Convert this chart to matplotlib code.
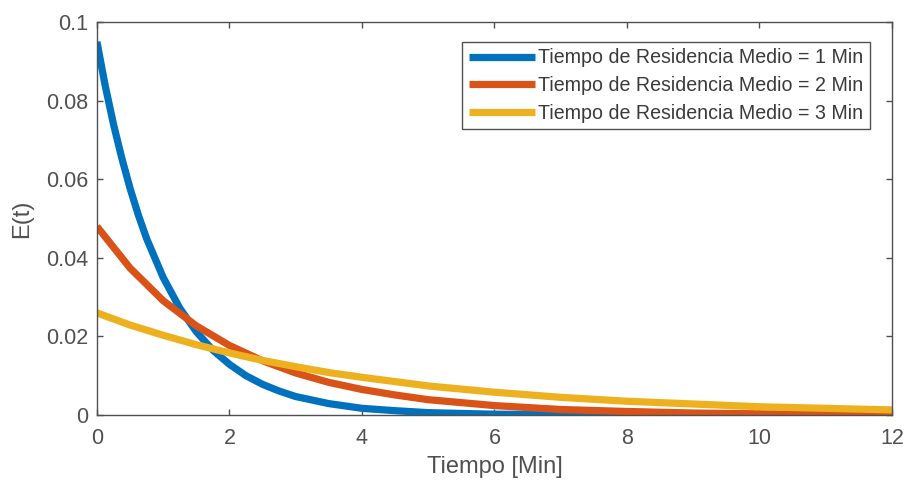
import matplotlib.pyplot as plt

plt.rcParams['font.family'] = ['Liberation Sans', 'DejaVu Sans']

# values
t_1 = [0, 0.125, 0.25, 0.375, 0.5, 0.625, 0.75, 1, 1.25, 1.5, 1.75, 2, 2.25, 2.5, 2.75, 3, 3.5, 4, 4.5, 5,
       6, 7, 8, 9, 10, 11, 12]
e_1 = [0.095, 0.0838, 0.074, 0.0654, 0.0577, 0.0509, 0.0449, 0.035, 0.0272, 0.0212, 0.0165, 0.0129,
       0.0100, 0.0078, 0.0061, 0.0047, 0.0029, 0.0017, 0.0011, 0.0006, 0.0002, 0.0001, 0.0, 0.0, 0.0,
       0.0, 0.0]

t_2 = [0, 0.5, 1, 1.5, 2, 2.5, 3, 3.5, 4, 4.5, 5, 6, 7, 8, 9, 10, 11, 12]
e_2 = [0.048, 0.0374, 0.0291, 0.0227, 0.0177, 0.0138, 0.0107, 0.0083, 0.0065, 0.0051, 0.0039,
       0.0024, 0.0014, 0.0009, 0.0005, 0.0003, 0.0002, 0.0001]

t_3 = [0, 0.5, 1, 1.5, 2, 2.5, 3, 3.5, 4, 5, 6, 7, 8, 9, 10, 11, 12]
e_3 = [0.026, 0.0229, 0.0203, 0.0179, 0.0158, 0.0139, 0.0123, 0.0108, 0.0096, 0.0074, 0.0058,
       0.0045, 0.0035, 0.0028, 0.0021, 0.0017, 0.0013]

labels = ['Tiempo de Residencia Medio = 1 Min',
          'Tiempo de Residencia Medio = 2 Min',
          'Tiempo de Residencia Medio = 3 Min']
colors = ['#0072BD', '#D95319', '#EDB120']

fig = plt.figure(figsize=(9.06, 4.82), dpi=100)
ax = fig.add_axes([0.107, 0.139, 0.8775, 0.815])

for t, e, lab, c in zip([t_1, t_2, t_3], [e_1, e_2, e_3], labels, colors):
    ax.plot(t, e, color=c, linewidth=5.2, label=lab, solid_capstyle='butt')

ax.set_xlim(0, 12)
ax.set_ylim(0, 0.1)
ax.set_xticks(range(0, 13, 2))
ax.set_yticks([0, 0.02, 0.04, 0.06, 0.08, 0.1])
ax.set_yticklabels(['0', '0.02', '0.04', '0.06', '0.08', '0.1'])

gray = '#505050'
for s in ax.spines.values():
    s.set_color(gray)
    s.set_linewidth(1.0)
ax.tick_params(direction='in', top=True, right=True, length=4, width=1.0,
               colors=gray, labelsize=15.5)
ax.tick_params(axis='y', pad=6.5)
ax.tick_params(axis='x', pad=9.5)

ax.set_xlabel('Tiempo [Min]', fontsize=17, color=gray, labelpad=5)
ax.set_ylabel('E(t)', fontsize=17, color=gray, labelpad=9)

leg = ax.legend(loc='upper right', bbox_to_anchor=(0.972, 0.949), borderaxespad=0,
                fontsize=14.1, handlelength=3.4, handletextpad=0.15, labelspacing=0.45,
                borderpad=0.32, fancybox=False, framealpha=1)
leg.get_frame().set_edgecolor(gray)
leg.get_frame().set_linewidth(1.0)
for txt in leg.get_texts():
    txt.set_color('#3a3a3a')

fig.savefig('out.png', dpi=100)
